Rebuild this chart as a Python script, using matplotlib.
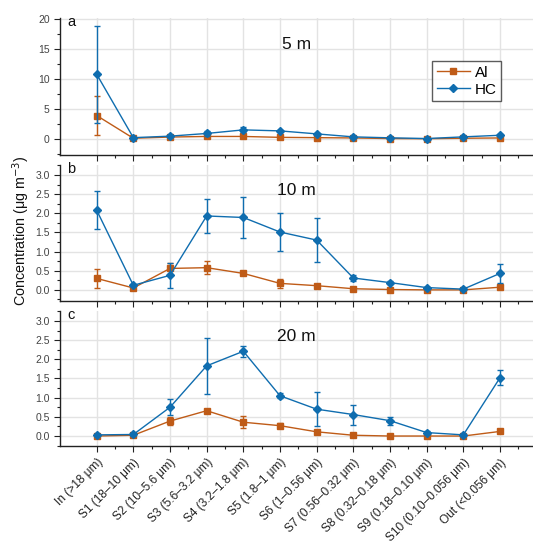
import matplotlib
matplotlib.use("Agg")
import matplotlib.pyplot as plt
from matplotlib.ticker import MultipleLocator, FormatStrFormatter
from matplotlib.lines import Line2D
import numpy as np

plt.rcParams['font.family'] = ['Liberation Sans', 'DejaVu Sans']

stages = ["In (>18 μm)", "S1 (18–10 μm)", "S2 (10–5.6 μm)", "S3 (5.6–3.2 μm)",
          "S4 (3.2–1.8 μm)", "S5 (1.8–1 μm)", "S6 (1–0.56 μm)", "S7 (0.56–0.32 μm)",
          "S8 (0.32–0.18 μm)", "S9 (0.18–0.10 μm)", "S10 (0.10–0.056 μm)", "Out (<0.056 μm)"]

heights = ["5 m", "10 m", "20 m"]
panel_letters = ["a", "b", "c"]

# 5 m
al_5m = [3.9, 0.10, 0.30, 0.40, 0.40, 0.25, 0.20, 0.15, 0.05, 0.02, 0.10, 0.15]
al_5m_err = [3.3, 0.05, 0.10, 0.10, 0.10, 0.05, 0.05, 0.05, 0.02, 0.02, 0.05, 0.05]
hc_5m = [10.8, 0.20, 0.45, 0.90, 1.50, 1.33, 0.83, 0.33, 0.17, 0.05, 0.33, 0.60]
hc_5m_err = [8.1, 0.10, 0.15, 0.40, 0.40, 0.20, 0.20, 0.10, 0.05, 0.03, 0.10, 0.15]

# 10 m
al_10m = [0.30, 0.05, 0.56, 0.58, 0.43, 0.17, 0.11, 0.03, 0.01, 0.0, 0.0, 0.07]
al_10m_err = [0.24, 0.02, 0.14, 0.17, 0.04, 0.12, 0.03, 0.02, 0.01, 0.01, 0.01, 0.04]
hc_10m = [2.08, 0.12, 0.38, 1.93, 1.89, 1.51, 1.30, 0.31, 0.19, 0.06, 0.02, 0.43]
hc_10m_err = [0.50, 0.03, 0.33, 0.45, 0.54, 0.50, 0.57, 0.07, 0.03, 0.02, 0.02, 0.25]

# 20 m
al_20m = [0.0, 0.02, 0.39, 0.66, 0.36, 0.27, 0.11, 0.02, 0.0, 0.0, 0.0, 0.12]
al_20m_err = [0.02, 0.02, 0.11, 0.05, 0.16, 0.06, 0.02, 0.01, 0.01, 0.01, 0.01, 0.02]
hc_20m = [0.03, 0.04, 0.75, 1.83, 2.21, 1.05, 0.70, 0.56, 0.40, 0.09, 0.03, 1.52]
hc_20m_err = [0.03, 0.03, 0.21, 0.73, 0.14, 0.07, 0.45, 0.26, 0.10, 0.03, 0.02, 0.19]

al_vals = [al_5m, al_10m, al_20m]
al_errs = [al_5m_err, al_10m_err, al_20m_err]
hc_vals = [hc_5m, hc_10m, hc_20m]
hc_errs = [hc_5m_err, hc_10m_err, hc_20m_err]

al_color = "#BF5B17"
hc_color = "#0F6DAF"
tick_color = "#444444"

W, H = 533, 544
fig = plt.figure(figsize=(W / 100, H / 100), dpi=100)

# panel rectangles in pixel units: (top, bottom)
panel_px = [(18, 155), (165, 301), (311, 446)]
ylims = [(-2.7, 20.2), (-0.29, 3.26), (-0.26, 3.26)]
left_px = 60

x = np.arange(len(stages))
axes = []
for i, (top, bot) in enumerate(panel_px):
    ax = fig.add_axes([left_px / W, 1 - bot / H, 1 - left_px / W, (bot - top) / H])
    axes.append(ax)
    ax.set_xlim(-1, 11.9)
    ax.set_ylim(*ylims[i])
    if i == 0:
        ax.yaxis.set_major_locator(MultipleLocator(5))
        ax.yaxis.set_minor_locator(MultipleLocator(2.5))
        ax.yaxis.set_major_formatter(FormatStrFormatter('%d'))
    else:
        ax.yaxis.set_major_locator(MultipleLocator(0.5))
        ax.yaxis.set_minor_locator(MultipleLocator(0.25))
        ax.yaxis.set_major_formatter(FormatStrFormatter('%.1f'))
    ax.set_xticks(x)
    ax.set_xticks(x + 0.5, minor=True)
    ax.grid(True, which='major', color='#e3e3e3', linewidth=1.0, zorder=0)
    ax.set_axisbelow(True)
    for s in ['top', 'right']:
        ax.spines[s].set_visible(False)
    for s in ['left', 'bottom']:
        ax.spines[s].set_color('#222222')
        ax.spines[s].set_linewidth(1.0)
    ax.tick_params(axis='both', which='major', direction='out', length=4, width=0.8,
                   colors='#222222', labelcolor=tick_color, labelsize=7.5)
    ax.tick_params(axis='both', which='minor', direction='out', length=2, width=0.8,
                   colors='#222222')

    ax.errorbar(x, al_vals[i], yerr=al_errs[i], color=al_color, marker='s', markersize=4,
                linewidth=1.0, elinewidth=1.0, capsize=2.5, capthick=1.0, zorder=3)
    ax.errorbar(x, hc_vals[i], yerr=hc_errs[i], color=hc_color, marker='D', markersize=4,
                linewidth=1.0, elinewidth=1.0, capsize=2.5, capthick=1.0, zorder=4)

    ax.text(0.5, 0.81, heights[i], transform=ax.transAxes, ha='center', va='center',
            fontsize=12.5, color='#111111')
    ax.text(0.015, 0.97, panel_letters[i], transform=ax.transAxes, ha='left', va='center',
            fontsize=10.5, color='#111111')

    if i < 2:
        ax.set_xticklabels([])
    else:
        ax.set_xticklabels(stages, rotation=45, ha='right', rotation_mode='anchor',
                           fontsize=8.6, color='#222222')

handles = [Line2D([], [], color=al_color, marker='s', markersize=4, linewidth=1.0),
           Line2D([], [], color=hc_color, marker='D', markersize=4, linewidth=1.0)]
leg = axes[0].legend(handles, ['Al', 'HC'], loc='upper left',
                     bbox_to_anchor=((432 - left_px) / (W - left_px), 1 - (61 - 18) / (155 - 18)),
                     fontsize=11, frameon=True, fancybox=False, borderpad=0.3,
                     handlelength=2.2, handletextpad=0.3, labelspacing=0.2, borderaxespad=0)
leg.get_frame().set_edgecolor('#333333')
leg.get_frame().set_linewidth(1.0)

fig.text(21 / W, 1 - 231 / H, "Concentration (μg m$^{-3}$)", rotation=90,
         ha='center', va='center', fontsize=10.3, color='#111111')

fig.savefig("out.png", dpi=100)
